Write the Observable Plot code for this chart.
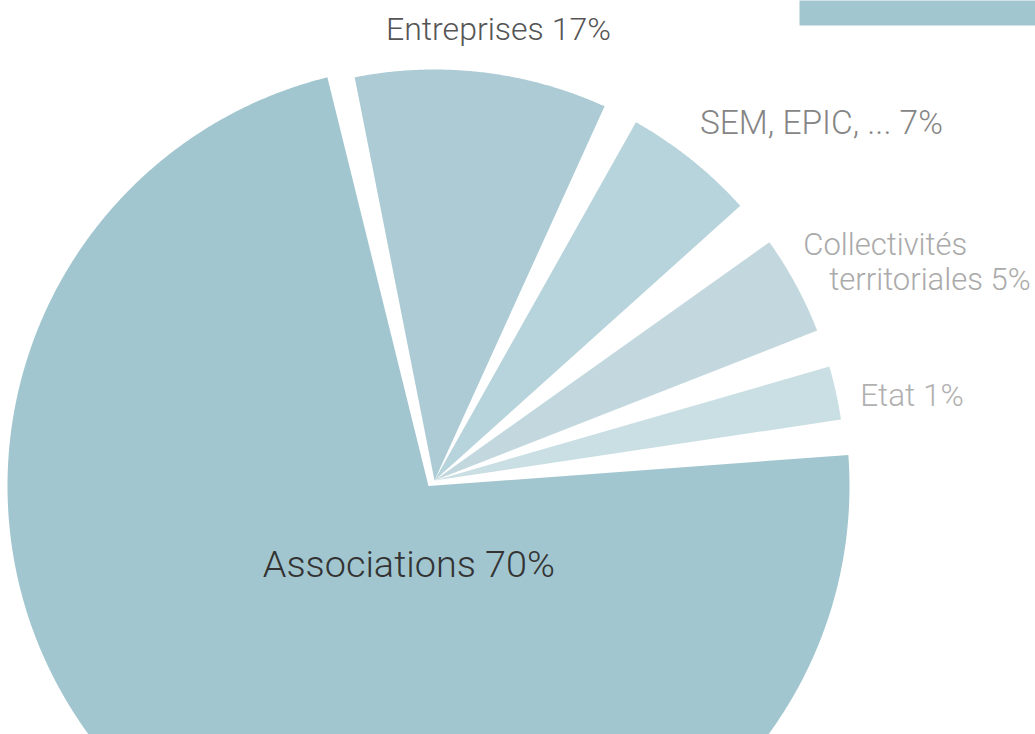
<!DOCTYPE html>
<html><head><meta charset="utf-8">
<script src="https://cdn.jsdelivr.net/npm/d3@7"></script>
<script src="https://cdn.jsdelivr.net/npm/@observablehq/plot@0.6"></script>
<style>html,body{margin:0;padding:0;background:#fff;overflow:hidden}</style>
</head><body><div id="chart"></div>
<script>
// ---- data (clockwise order from the top) ----
const categories = ["Entreprises", "SEM, EPIC, ...", "Collectivités territoriales", "Etat", "Associations"];
const percents = [17, 7, 5, 1, 70];
const labelLines = [["Entreprises 17%"], ["SEM, EPIC, ... 7%"], ["Collectivités", "territoriales 5%"], ["Etat 1%"], ["Associations 70%"]];
// share of the circle each slice occupies in the picture (%)
const drawnShares = [9.9, 5.2, 3.9, 2.1, 72.3];
const sliceColors = ["#accbd4", "#b7d3db", "#c2d8de", "#cadfe3", "#a2c6cf"];
const labelColors = ["#555555", "#858585", "#aaaaaa", "#b0b0b0", "#333333"];

// ---- layout ----
const W = 1035, H = 734;
const center = [434, 480], radius = 411;
const startDeg = -11.2;
const padAfter = [4.9, 6.5, 5.3, 4.3, 2.7];
const special = {Associations: {offset: [-6, 5.5], radius: 421}};
const labelLayout = [
  {r: 450, anchor: "middle", size: 32, nudges: [[12, 6]]},
  {r: 450, anchor: "start", size: 33.5, nudges: [[-16, 4.5]]},
  {r: 450, anchor: "start", size: 31, nudges: [[-27, -11], [-1, 24]]},
  {r: 450, anchor: "start", size: 31.5, nudges: [[-14, 21]]},
  {r: 105, anchor: "middle", size: 37.8, nudges: [[42, 6]]}
];

const rad = d => d * Math.PI / 180;
const k = (360 - d3.sum(padAfter)) / d3.sum(drawnShares);
let a = startDeg;
const slices = categories.map((name, i) => {
  const a0 = a, a1 = a + drawnShares[i] * k;
  a = a1 + padAfter[i];
  const sp = special[name];
  const cx = center[0] + (sp ? sp.offset[0] : 0), cy = center[1] + (sp ? sp.offset[1] : 0);
  const r = sp ? sp.radius : radius;
  const pts = [{x: cx, y: cy}];
  const n = Math.max(2, Math.ceil((a1 - a0) / 0.25));
  for (let j = 0; j <= n; j++) {
    const t = rad(a0 + (a1 - a0) * j / n);
    pts.push({x: cx + r * Math.sin(t), y: cy - r * Math.cos(t)});
  }
  pts.push({x: cx, y: cy});
  const mid = rad((a0 + a1) / 2);
  return {name, i, pts, cx, cy, mid, color: sliceColors[i]};
});

const labelRows = [];
slices.forEach(s => {
  const L = labelLayout[s.i];
  const ax = s.cx + L.r * Math.sin(s.mid), ay = s.cy - L.r * Math.cos(s.mid);
  labelLines[s.i].forEach((line, j) => {
    const [dx, dy] = L.nudges[j];
    labelRows.push({text: line, x: ax + dx, y: ay + dy, anchor: L.anchor, size: L.size, color: labelColors[s.i]});
  });
});

const chart = Plot.plot({
  width: W, height: H, margin: 0,
  x: {type: "identity", axis: null},
  y: {type: "identity", axis: null},
  style: {fontFamily: "Roboto, 'Helvetica Neue', sans-serif", background: "#fff"},
  marks: [
    Plot.frame({fill: "#a2c6cf", stroke: null, insetLeft: 799, insetBottom: H - 25}),
    ...slices.map(s => Plot.line(s.pts, {x: "x", y: "y", fill: s.color, stroke: "none", curve: "linear"})),
    ...["start", "middle"].map(anchor => Plot.text(labelRows.filter(d => d.anchor === anchor), {
      x: "x", y: "y", text: "text", textAnchor: anchor, lineAnchor: "bottom",
      fill: d => d.color, fontSize: d => d.size, fontWeight: 300
    }))
  ]
});
document.getElementById("chart").append(chart);
</script>
</body></html>
